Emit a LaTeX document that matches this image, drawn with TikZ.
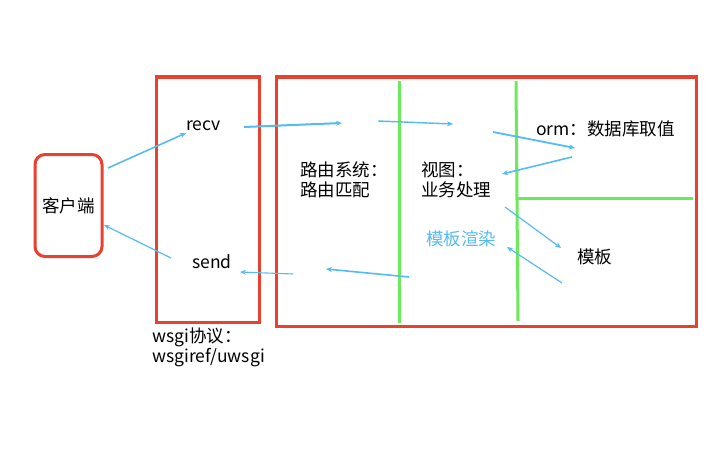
\documentclass[tikz,border=0pt]{standalone}
\usepackage{fontspec}
\setmainfont{Noto Sans CJK SC}
\usetikzlibrary{arrows.meta}
\definecolor{redbox}{HTML}{E8412F}
\definecolor{greenline}{HTML}{6CEB5A}
\definecolor{bluearrow}{HTML}{55BBF3}
\begin{document}
\begin{tikzpicture}[x=1pt,y=-1pt,
  redframe/.style={draw=redbox,line width=3pt},
  divider/.style={draw=greenline,line width=3pt},
  flow/.style={draw=bluearrow,line width=1.6pt,-{Stealth[length=6pt,width=5pt]}},
  label/.style={font=\fontsize{17.5}{20}\selectfont,inner sep=0pt,anchor=west,align=left}]
\useasboundingbox[fill=white] (0,0) rectangle (720,460);
% boxes
\node[redframe,rounded corners=10pt,minimum width=67pt,minimum height=102pt,inner sep=0pt,font=\fontsize{17.5}{20}\selectfont] (client) at (68.5,205.5) {客户端};
\draw[redframe] (156,77) rectangle (259,322);
\draw[redframe] (276,77) rectangle (696,326);
% dividers
\coordinate (g1t) at (399,81); \coordinate (g1b) at (399,323);
\coordinate (g2t) at (516,81); \coordinate (g2b) at (518,321);
\coordinate (g3l) at (518,198); \coordinate (g3r) at (693,198);
\draw[divider] (g1t) -- (g1b);
\draw[divider] (g2t) -- (g2b);
\draw[divider] (g3l) -- (g3r);
% texts
\node[label] (recv) at (186,126) {recv};
\node[label] (send) at (192,262) {send};
\node[label] (wsgi) at (152,347) {wsgi协议：\\wsgiref/uwsgi};
\node[label] (route) at (300,180) {路由系统：\\路由匹配};
\node[label] (view) at (421,180) {视图：\\业务处理};
\node[label,text=bluearrow] (render) at (426,239) {模板渲染};
\node[label] (orm) at (536,129) {orm：数据库取值};
\node[label] (tpl) at (577,257) {模板};
% arrow end points
\coordinate (a1s) at (108,168); \coordinate (a1e) at (186,133);
\coordinate (a2s) at (171,258); \coordinate (a2e) at (104,225);
\coordinate (a3s) at (244,127); \coordinate (a3e) at (342,123);
\coordinate (a4s) at (378,121); \coordinate (a4e) at (453,124);
\coordinate (a5s) at (493,132); \coordinate (a5e) at (575,148);
\coordinate (a6s) at (572,157); \coordinate (a6e) at (502,174);
\coordinate (a7s) at (505,207); \coordinate (a7e) at (561,248);
\coordinate (a8s) at (562,283); \coordinate (a8e) at (507,247);
\coordinate (a9s) at (409,277); \coordinate (a9e) at (326,269);
\coordinate (a10s) at (293,274); \coordinate (a10e) at (240,272);
\draw[flow] (a1s) -- (a1e);
\draw[flow,line width=1.2pt] (a2s) -- (a2e);
\draw[flow,line width=2pt] (a3s) -- (a3e);
\draw[flow,line width=1.4pt] (a4s) -- (a4e);
\draw[flow,line width=1.8pt] (a5s) -- (a5e);
\draw[flow] (a6s) -- (a6e);
\draw[flow,line width=1.2pt] (a7s) -- (a7e);
\draw[flow,line width=1.2pt] (a8s) -- (a8e);
\draw[flow] (a9s) -- (a9e);
\draw[flow,line width=1.1pt] (a10s) -- (a10e);
\end{tikzpicture}
\end{document}
